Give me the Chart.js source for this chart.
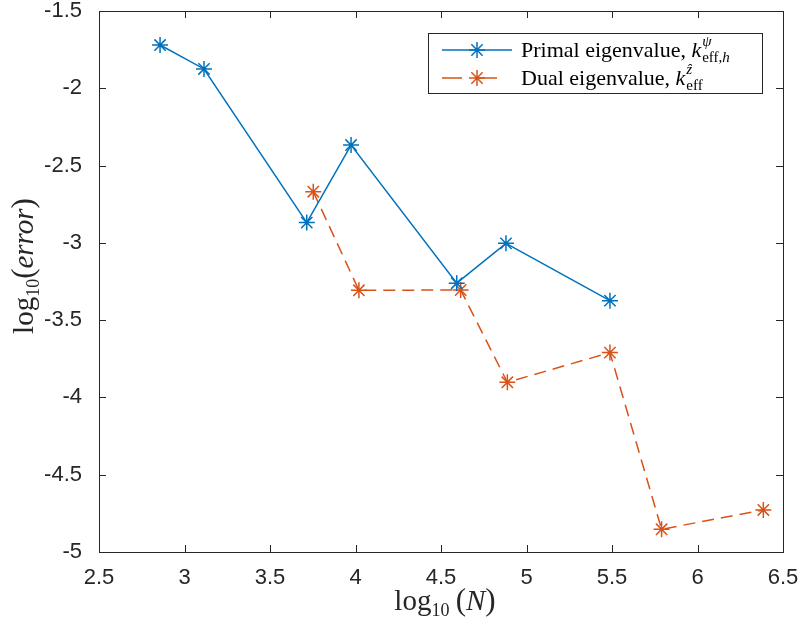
<!DOCTYPE html>
<html>
<head>
<meta charset="utf-8">
<script src="https://cdn.jsdelivr.net/npm/chart.js@4"></script>
<style>
  html, body { margin: 0; padding: 0; background: #fff; }
  #wrap { width: 802px; height: 628px; }
</style>
</head>
<body>
<div id="wrap"><canvas id="errChart" width="802" height="628"></canvas></div>
<script>
// values
const primalX = [2.857, 3.114, 3.715, 3.974, 4.592, 4.880, 5.488];
const primalY = [-1.72, -1.875, -2.869, -2.367, -3.261, -3.003, -3.374];
const dualX = [3.753, 4.020, 4.615, 4.888, 5.488, 5.790, 6.385];
const dualY = [-2.669, -3.307, -3.305, -3.902, -3.710, -4.853, -4.728];

const xTicks = [2.5, 3, 3.5, 4, 4.5, 5, 5.5, 6, 6.5];
const xTickLabels = ['2.5', '3', '3.5', '4', '4.5', '5', '5.5', '6', '6.5'];
const yTicks = [-5, -4.5, -4, -3.5, -3, -2.5, -2, -1.5];
const yTickLabels = ['-5', '-4.5', '-4', '-3.5', '-3', '-2.5', '-2', '-1.5'];

const blue = '#0072BD';
const orange = '#D95319';
const axisColor = '#262626';
const serif = '"Liberation Serif", "DejaVu Serif", serif';

function toPoints(xs, ys) {
    return xs.map((x, i) => ({ x: x, y: ys[i] }));
}

// draw a run of text pieces: {t, size, italic, dy}
function drawRuns(ctx, x, y, runs) {
    let cx = x;
    runs.forEach(r => {
        ctx.font = (r.italic ? 'italic ' : '') + r.size + 'px ' + serif;
        ctx.fillText(r.t, cx, y + (r.dy || 0));
        cx += ctx.measureText(r.t).width;
    });
    return cx;
}
function runsWidth(ctx, runs) {
    let w = 0;
    runs.forEach(r => {
        ctx.font = (r.italic ? 'italic ' : '') + r.size + 'px ' + serif;
        w += ctx.measureText(r.t).width;
    });
    return w;
}

function drawAsterisk(ctx, x, y, r, color) {
    ctx.save();
    ctx.strokeStyle = color;
    ctx.lineWidth = 1.5;
    ctx.beginPath();
    for (let k = 0; k < 4; k++) {
        const a = k * Math.PI / 4;
        ctx.moveTo(x - r * Math.cos(a), y - r * Math.sin(a));
        ctx.lineTo(x + r * Math.cos(a), y + r * Math.sin(a));
    }
    ctx.stroke();
    ctx.restore();
}

// box, inward ticks, axis titles and the legend
const framePlugin = {
    id: 'frame',
    afterDraw(chart) {
        const ctx = chart.ctx;
        const area = chart.chartArea;
        const xs = chart.scales.x, ys = chart.scales.y;
        const tl = 7;
        ctx.save();
        ctx.strokeStyle = axisColor;
        ctx.lineWidth = 1;
        ctx.strokeRect(Math.round(area.left) + 0.5, Math.round(area.top) + 0.5,
            Math.round(area.right - area.left), Math.round(area.bottom - area.top));
        ctx.beginPath();
        xTicks.forEach(v => {
            const px = Math.round(xs.getPixelForValue(v)) + 0.5;
            ctx.moveTo(px, area.bottom); ctx.lineTo(px, area.bottom - tl);
            ctx.moveTo(px, area.top); ctx.lineTo(px, area.top + tl);
        });
        yTicks.forEach(v => {
            const py = Math.round(ys.getPixelForValue(v)) + 0.5;
            ctx.moveTo(area.left, py); ctx.lineTo(area.left + tl, py);
            ctx.moveTo(area.right, py); ctx.lineTo(area.right - tl, py);
        });
        ctx.stroke();

        // axis titles
        ctx.fillStyle = axisColor;
        ctx.textBaseline = 'alphabetic';
        ctx.textAlign = 'left';
        const xRuns = [
            { t: 'log', size: 29 }, { t: '10', size: 18, dy: 6 },
            { t: '\u2009(', size: 31 }, { t: 'N', size: 29, italic: true }, { t: ')', size: 31 }
        ];
        const xw = runsWidth(ctx, xRuns);
        const xc = (area.left + area.right) / 2;
        drawRuns(ctx, xc - xw / 2 + 4, 610, xRuns);

        const yRuns = [
            { t: 'log', size: 29 }, { t: '10', size: 18, dy: 6 },
            { t: '(', size: 31 }, { t: 'error', size: 29, italic: true }, { t: ')', size: 31 }
        ];
        const yw = runsWidth(ctx, yRuns);
        ctx.save();
        ctx.translate(33, 266);
        ctx.rotate(-Math.PI / 2);
        drawRuns(ctx, -yw / 2, 0, yRuns);
        ctx.restore();

        // legend
        const lx = 428, ly = 33, lw = 334, lh = 60;
        ctx.fillStyle = '#fff';
        ctx.fillRect(lx, ly, lw, lh);
        ctx.strokeStyle = axisColor;
        ctx.strokeRect(lx + 0.5, ly + 0.5, lw, lh);

        const rows = [
            { color: blue, dash: [], y: 50, label: 'Primal eigenvalue, ', sup: 'ψ', sub: [{ t: 'eff,', italic: false }, { t: 'h', italic: true }] },
            { color: orange, dash: [20, 15], y: 78, label: 'Dual eigenvalue, ', sup: 'ẑ', sub: [{ t: 'eff', italic: false }] }
        ];
        rows.forEach(row => {
            ctx.save();
            ctx.strokeStyle = row.color;
            ctx.lineWidth = 1.5;
            ctx.setLineDash(row.dash);
            ctx.beginPath();
            ctx.moveTo(442, row.y); ctx.lineTo(512, row.y);
            ctx.stroke();
            ctx.restore();
            drawAsterisk(ctx, 477, row.y, 8, row.color);

            ctx.fillStyle = '#000';
            const base = row.y + 7;
            let cx = drawRuns(ctx, 521, base, [{ t: row.label, size: 22 }, { t: 'k', size: 22, italic: true }]);
            cx += 1;
            drawRuns(ctx, cx, base - 11, [{ t: row.sup, size: 15, italic: true }]);
            drawRuns(ctx, cx, base + 5, row.sub.map(s => ({ t: s.t, size: 15, italic: s.italic })));
        });
        ctx.restore();
    }
};

new Chart(document.getElementById('errChart').getContext('2d'), {
    type: 'scatter',
    data: {
        datasets: [{
            label: 'Primal eigenvalue',
            data: toPoints(primalX, primalY),
            showLine: true,
            borderColor: blue,
            backgroundColor: blue,
            borderWidth: 1.5,
            pointStyle: 'star',
            pointRadius: 8,
            pointBorderWidth: 1.5,
            pointHoverRadius: 8
        }, {
            label: 'Dual eigenvalue',
            data: toPoints(dualX, dualY),
            showLine: true,
            borderColor: orange,
            backgroundColor: orange,
            borderWidth: 1.5,
            borderDash: [12, 7],
            pointStyle: 'star',
            pointRadius: 8,
            pointBorderWidth: 1.5,
            pointHoverRadius: 8
        }]
    },
    options: {
        responsive: false,
        animation: false,
        layout: { padding: { top: 11, right: 19, left: 0, bottom: 0 } },
        plugins: {
            legend: { display: false },
            tooltip: { enabled: false }
        },
        scales: {
            x: {
                type: 'linear',
                min: 2.5,
                max: 6.5,
                grid: { display: false, drawTicks: false },
                border: { display: false },
                afterBuildTicks: s => { s.ticks = xTicks.map(v => ({ value: v })); },
                afterFit: s => { s.height = 76; s.paddingLeft = 0; s.paddingRight = 0; },
                ticks: {
                    padding: 13,
                    color: axisColor,
                    font: { family: '"Liberation Sans", Arial, sans-serif', size: 22 },
                    callback: (v) => xTickLabels[xTicks.indexOf(v)]
                }
            },
            y: {
                type: 'linear',
                min: -5,
                max: -1.5,
                grid: { display: false, drawTicks: false },
                border: { display: false },
                afterBuildTicks: s => { s.ticks = yTicks.map(v => ({ value: v })); },
                afterFit: s => { s.width = 99; s.paddingTop = 0; s.paddingBottom = 0; },
                ticks: {
                    padding: 17,
                    color: axisColor,
                    font: { family: '"Liberation Sans", Arial, sans-serif', size: 22 },
                    callback: (v) => yTickLabels[yTicks.indexOf(v)]
                }
            }
        }
    },
    plugins: [framePlugin]
});
</script>
</body>
</html>
